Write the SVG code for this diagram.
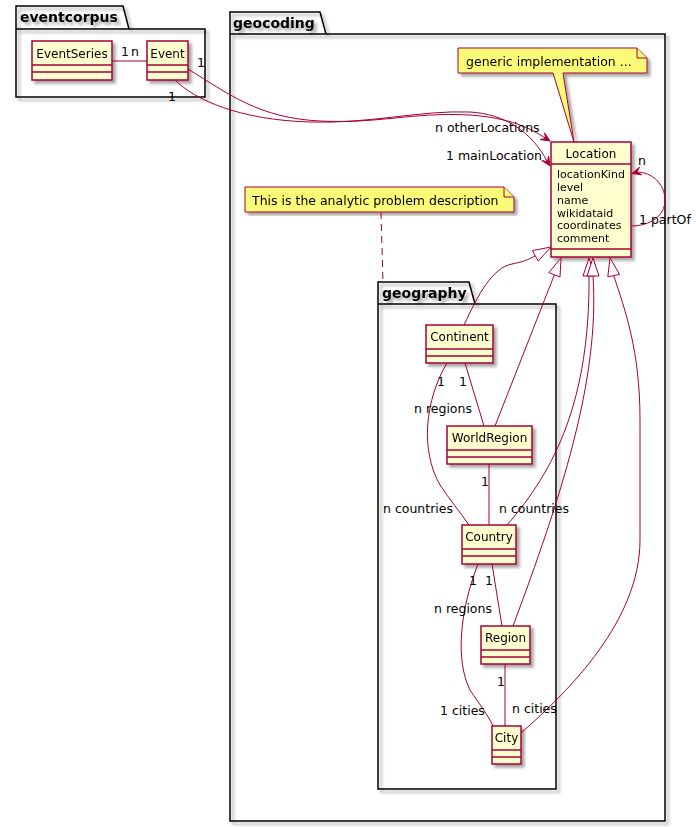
<svg xmlns="http://www.w3.org/2000/svg" width="696" height="827" viewBox="0 0 696 827">
<defs>
<filter id="sh" x="-5%" y="-5%" width="120%" height="120%"><feDropShadow dx="3" dy="3" stdDeviation="1.8" flood-color="#000" flood-opacity="0.35"/></filter>
</defs>
<style>
text{font-family:"DejaVu Sans","Liberation Sans",sans-serif;fill:#000}
.pkg{fill:none;stroke:#000;stroke-width:1.5}
.ptitle{font-size:14px;font-weight:bold}
.cls{fill:#FEFECE;stroke:#A80036;stroke-width:1.5}
.sep{stroke:#A80036;stroke-width:1.5}
.cname{font-size:12px;text-anchor:middle}
.attr{font-size:11px}
.note{fill:#FBFB77;stroke:#A80036;stroke-width:1}
.ntext{font-size:12.5px}
.edge{fill:none;stroke:#A80036;stroke-width:1}
.ahead{fill:#A80036;stroke:#A80036;stroke-width:1}
.ext{fill:#fff;stroke:#A80036;stroke-width:1}
.lbl{font-size:12.5px}
</style>

<g id="pkg-eventcorpus" filter="url(#sh)">
<path class="pkg" d="M16,6 H123 L129,29 H205 V97 H16 Z M16,29 H129"/>
<text class="ptitle" x="20" y="22">eventcorpus</text>
</g>
<g id="pkg-geocoding" filter="url(#sh)">
<path class="pkg" d="M230,12 H320 L326,34 H665 V821 H230 Z M230,34 H326"/>
<text class="ptitle" x="233" y="28">geocoding</text>
</g>
<g id="pkg-geography" filter="url(#sh)">
<path class="pkg" d="M378,282 H469 L475,304 H556 V789 H378 Z M378,304 H475"/>
<text class="ptitle" x="382" y="298">geography</text>
</g>

<g id="note-generic" filter="url(#sh)">
<path class="note" d="M458,48 H637 L647,58 V73 H563 L574,142 L553,73 H458 Z"/>
<path class="note" d="M637,48 V58 H647"/>
<text class="ntext" x="466" y="66">generic implementation ...</text>
</g>
<g id="note-analytic" filter="url(#sh)">
<path class="note" d="M245,187 H504 L514,197 V212 H245 Z"/>
<path class="note" d="M504,187 V197 H514"/>
<text class="ntext" x="252" y="205">This is the analytic problem description</text>
</g>

<g id="EventSeries" filter="url(#sh)">
<rect class="cls" x="32" y="41" width="80" height="39"/>
<path class="sep" d="M32,65 H112 M32,72 H112"/>
<text class="cname" x="72" y="58">EventSeries</text>
</g>
<g id="Event" filter="url(#sh)">
<rect class="cls" x="147" y="41" width="41" height="39"/>
<path class="sep" d="M147,65 H188 M147,72 H188"/>
<text class="cname" x="167.5" y="58">Event</text>
</g>
<g id="Location" filter="url(#sh)">
<rect class="cls" x="551" y="142" width="80" height="115"/>
<path class="sep" d="M551,164 H631 M551,249 H631"/>
<text class="cname" x="591" y="158">Location</text>
<text class="attr" x="557" y="178">locationKind</text>
<text class="attr" x="557" y="191">level</text>
<text class="attr" x="557" y="204">name</text>
<text class="attr" x="557" y="216.5">wikidataid</text>
<text class="attr" x="557" y="229">coordinates</text>
<text class="attr" x="557" y="242">comment</text>
</g>
<g id="Continent" filter="url(#sh)">
<rect class="cls" x="426" y="325" width="67" height="38"/>
<path class="sep" d="M426,349 H493 M426,356 H493"/>
<text class="cname" x="459.5" y="341">Continent</text>
</g>
<g id="WorldRegion" filter="url(#sh)">
<rect class="cls" x="447" y="426" width="85" height="38"/>
<path class="sep" d="M447,450 H532 M447,457 H532"/>
<text class="cname" x="489.5" y="442">WorldRegion</text>
</g>
<g id="Country" filter="url(#sh)">
<rect class="cls" x="462" y="525" width="54" height="39"/>
<path class="sep" d="M462,549 H516 M462,556 H516"/>
<text class="cname" x="489" y="541">Country</text>
</g>
<g id="Region" filter="url(#sh)">
<rect class="cls" x="481" y="626" width="49" height="38"/>
<path class="sep" d="M481,650 H530 M481,657 H530"/>
<text class="cname" x="505.5" y="642">Region</text>
</g>
<g id="City" filter="url(#sh)">
<rect class="cls" x="492" y="726" width="29" height="38"/>
<path class="sep" d="M492,750 H521 M492,757 H521"/>
<text class="cname" x="506.5" y="742">City</text>
</g>

<g id="connectors">
<path class="edge" d="M112,61 H147"/>
<text class="lbl" x="121" y="56">1</text>
<text class="lbl" x="131" y="56">n</text>

<path class="edge" d="M188,69 C230,95 260,118 320,121 C380,124 410,112 470,115 C510,118 530,128 545.8,138.4"/>
<polygon class="ahead" points="550,141 540.2,139.6 545.8,138.4 544.5,132.8"/>
<text class="lbl" x="197" y="67">1</text>
<text class="lbl" x="435" y="132">n otherLocations</text>

<path class="edge" d="M175,80 C195,100 240,120 310,122 C370,124 420,110 470,112 C505,114 532,132 547.4,161.8"/>
<polygon class="ahead" points="550,166 541.8,160.5 547.4,161.8 548.6,156.2"/>
<text class="lbl" x="168" y="101">1</text>
<text class="lbl" x="446" y="160">1 mainLocation</text>

<path class="edge" d="M631,226 C650,226 665,216 665,200 C665,184 652,172 636.8,172.1"/>
<polygon class="ahead" points="632,173.5 639.5,167.2 636.8,172.1 641.7,174.8"/>
<text class="lbl" x="638" y="165">n</text>
<text class="lbl" x="639" y="224">1 partOf</text>

<path class="edge" d="M381,212 L383,282" stroke-dasharray="7,5"/>

<path class="edge" d="M464,325 C478,295 492,268 512,264 C522,262 528,260 535.3,255.8"/>
<polygon class="ext" points="551,247 538.2,261 532.4,250.6"/>

<path class="edge" d="M495,426 L554.4,274.8"/>
<polygon class="ext" points="561,258 560,277 548.8,272.6"/>

<path class="edge" d="M507,525 C555,470 590,400 589,276"/>
<polygon class="ext" points="589,258 595,276 583,276"/>

<path class="edge" d="M513,626 C560,500 600,380 593,276"/>
<polygon class="ext" points="593,258 599,276 587,276"/>

<path class="edge" d="M521,733 C570,690 640,620 640,540 L640,420 C640,350 625,310 613.7,275.6"/>
<polygon class="ext" points="610,258 619.6,274.4 607.8,276.8"/>

<path class="edge" d="M465,363 L484,426"/>
<path class="edge" d="M447,363 C425,400 420,450 440,485 C450,500 460,512 469,525"/>
<text class="lbl" x="437" y="386">1</text>
<text class="lbl" x="459" y="386">1</text>
<text class="lbl" x="414" y="413">n regions</text>

<path class="edge" d="M489,464 L489,525"/>
<text class="lbl" x="481" y="486">1</text>
<text class="lbl" x="383" y="513">n countries</text>
<text class="lbl" x="499" y="513">n countries</text>

<path class="edge" d="M492,564 L502,626"/>
<path class="edge" d="M478,564 C460,610 455,660 470,690 C480,705 488,715 493,726"/>
<text class="lbl" x="469" y="585">1</text>
<text class="lbl" x="485" y="585">1</text>
<text class="lbl" x="434" y="613">n regions</text>

<path class="edge" d="M505,664 L505,726"/>
<text class="lbl" x="497" y="686">1</text>
<text class="lbl" x="440" y="715">1 cities</text>
<text class="lbl" x="512" y="713">n cities</text>
</g>
</svg>
